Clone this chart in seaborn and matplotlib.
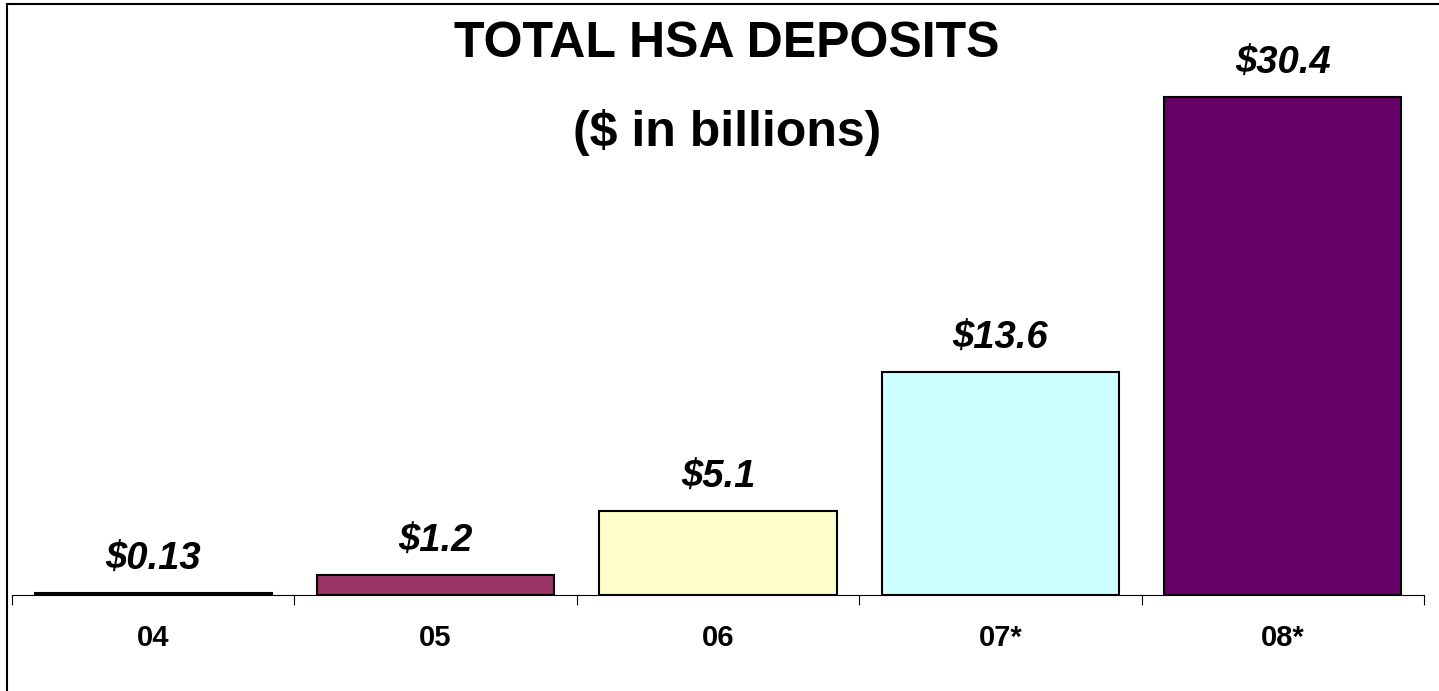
import matplotlib
matplotlib.use("Agg")
import matplotlib.pyplot as plt
import seaborn as sns
import pandas as pd
from matplotlib.patches import Rectangle

years = ["04", "05", "06", "07*", "08*"]
deposits = [0.13, 1.2, 5.1, 13.6, 30.4]
value_labels = ["$0.13", "$1.2", "$5.1", "$13.6", "$30.4"]
bar_colors = ["#9999FF", "#993366", "#FFFFCC", "#CCFFFF", "#660066"]
title_lines = ["TOTAL HSA DEPOSITS", "($ in billions)"]

sns.set_theme(style="white")
plt.rcParams["font.family"] = ["Liberation Sans", "DejaVu Sans"]

W, H = 1439, 691
fig = plt.figure(figsize=(W / 100, H / 100), dpi=100)

px_per_unit = 16.38
y_axis = 595
ymax = 34.0
ax_left, ax_right = 12 / W, 1424 / W
ax_bottom = 1 - y_axis / H
ax_height = ymax * px_per_unit / H
ax = fig.add_axes([ax_left, ax_bottom, ax_right - ax_left, ax_height])

df = pd.DataFrame({"year": years, "deposits": deposits})
sns.barplot(data=df, x="year", y="deposits", hue="year", palette=bar_colors,
            width=0.84, edgecolor="black", linewidth=1.5, legend=False, ax=ax,
            saturation=1)

ax.set_xlim(-0.5, len(years) - 0.5)
ax.set_ylim(0, ymax)
ax.set_xlabel("")
ax.set_ylabel("")
ax.set_yticks([])
for side in ["top", "right", "left"]:
    ax.spines[side].set_visible(False)
ax.spines["bottom"].set_color("black")
ax.spines["bottom"].set_linewidth(0.8)

# category boundary ticks below the axis
ax.set_xticks([i - 0.5 for i in range(len(years) + 1)], minor=True)
ax.tick_params(axis="x", which="minor", length=7, width=0.8, color="black",
               direction="out", bottom=True)
ax.tick_params(axis="x", which="major", length=0, pad=21, labelsize=21)
for lbl in ax.get_xticklabels():
    lbl.set_fontweight("bold")
    lbl.set_color("black")

for i, (v, txt) in enumerate(zip(deposits, value_labels)):
    ax.annotate(txt, (i, v), xytext=(0, 11), textcoords="offset points",
                ha="center", va="bottom", fontsize=27.5, fontweight="bold",
                fontstyle="italic", color="black")

fig.text(727 / W, 1 - 44 / H, title_lines[0], ha="center", va="center",
         fontsize=36, fontweight="bold", color="black")
fig.text(727 / W, 1 - 133 / H, title_lines[1], ha="center", va="center",
         fontsize=36, fontweight="bold", color="black")

# outer frame (left and top edges visible)
fig.add_artist(Rectangle((7 / W, -0.1), 1.2, 1.1 - 4 / H, transform=fig.transFigure,
                         fill=False, edgecolor="black", linewidth=1.5))

fig.savefig("out.png", dpi=100, facecolor="white")
